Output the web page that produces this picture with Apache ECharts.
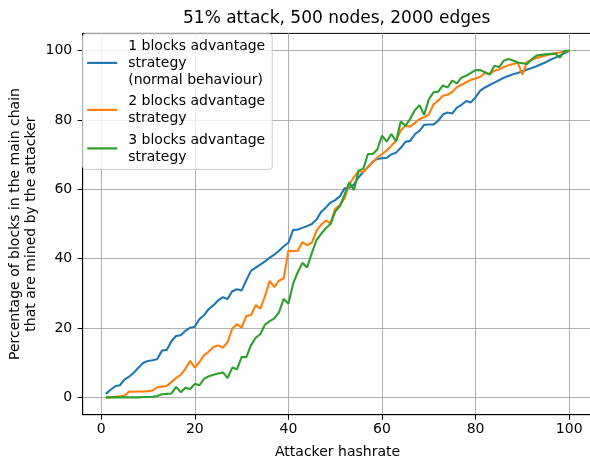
<!DOCTYPE html>
<html>
<head>
<meta charset="utf-8">
<script src="https://cdn.jsdelivr.net/npm/echarts@6/dist/echarts.min.js"></script>
<style>html,body{margin:0;padding:0;background:#fff;}#c{width:590px;height:459px;}</style>
</head>
<body>
<div id="c"></div>
<script>
const hashrate = Array.from({length: 100}, (_, i) => i + 1);
const xTicks = [0, 20, 40, 60, 80, 100];
const yTicks = [0, 20, 40, 60, 80, 100];
const seriesNames = [
  "1 blocks advantage\nstrategy\n(normal behaviour)",
  "2 blocks advantage\nstrategy",
  "3 blocks advantage\nstrategy"
];
const adv1 = [1.0,2.2,3.2,3.5,5.2,6.0,7.2,8.6,10.0,10.5,
  10.7,11.1,13.5,13.7,16.2,17.7,17.9,19.2,20.1,20.4,
  22.6,23.7,25.5,26.6,28.0,28.9,28.4,30.6,31.2,30.8,
  33.8,36.5,37.4,38.3,39.2,40.3,41.2,42.3,43.6,44.6,
  48.3,48.4,48.9,49.4,50.0,51.3,53.5,54.8,56.2,56.9,
  58.0,60.3,60.4,61.4,63.5,65.0,66.5,68.0,68.8,69.0,
  69.1,70.1,70.6,72.0,73.7,74.0,75.9,76.9,78.6,78.7,
  78.7,79.8,81.6,82.2,81.9,83.6,84.4,85.5,85.1,86.6,
  88.5,89.4,90.1,90.8,91.5,92.2,92.7,93.2,93.6,94.1,
  94.6,95.0,95.5,96.1,96.7,97.4,98.0,98.6,99.3,100.0];
const adv2 = [0.0,0.0,0.2,0.3,0.5,1.7,1.6,1.7,1.7,1.8,
  2.0,2.9,3.1,3.3,4.4,5.6,6.5,8.3,10.5,8.6,
  10.2,12.2,13.2,14.5,15.0,14.4,15.9,19.8,21.1,20.1,
  23.5,23.7,26.6,25.6,29.2,33.6,31.8,33.7,34.3,42.3,
  42.2,42.3,44.8,43.9,44.6,48.0,49.8,51.0,50.2,54.4,
  55.5,57.5,61.5,63.5,65.3,65.0,66.4,67.8,69.2,70.2,
  71.2,72.6,74.1,77.0,78.4,78.1,79.2,80.3,80.8,81.6,
  84.5,85.6,87.0,87.3,88.1,89.5,90.2,90.9,91.6,92.0,
  92.5,93.6,93.3,94.2,94.6,95.3,95.8,96.2,96.6,93.1,
  96.8,97.5,97.9,98.3,98.6,99.0,99.3,99.5,99.8,100.0];
const adv3 = [0.0,0.0,0.0,0.0,0.0,0.0,0.0,0.0,0.1,0.1,
  0.2,0.4,0.9,1.0,1.1,3.0,1.5,2.8,2.4,3.9,
  3.5,5.4,6.1,6.5,6.9,7.2,5.6,8.6,8.1,11.6,
  11.6,15.0,17.2,18.2,21.0,22.0,22.8,24.6,28.4,27.0,
  32.8,36.1,38.8,37.5,41.6,45.4,47.2,48.8,50.0,53.6,
  55.2,58.5,62.0,59.8,65.4,66.0,70.2,70.2,71.5,75.5,
  73.8,76.0,73.8,79.6,78.4,80.3,82.8,84.3,81.5,86.0,
  88.0,88.2,90.0,89.4,91.4,90.6,92.3,92.8,93.6,94.4,
  94.4,93.8,93.1,95.7,95.3,97.1,97.6,97.2,96.6,96.4,
  96.2,97.5,98.6,98.8,99.0,99.1,99.2,98.0,100.0,100.0];
const colors = ['#1f77b4', '#ff7f0e', '#2ca02c'];
const allSeries = [adv1, adv2, adv3];

const FONT = 'DejaVu Sans';
const chart = echarts.init(document.getElementById('c'), null, {renderer: 'canvas'});
chart.setOption({
  animation: false,
  backgroundColor: '#fff',
  color: colors,
  title: {
    text: '51% attack, 500 nodes, 2000 edges',
    left: 183, top: 8.5, padding: 0,
    textStyle: {fontFamily: FONT, fontSize: 17, fontWeight: 'normal', color: '#000', lineHeight: 20}
  },
  grid: {left: 82.7, top: 33.4, width: 509.7, height: 381.3, outerBoundsMode: 'none', containLabel: false,
    show: true, borderColor: '#000', borderWidth: 1, backgroundColor: 'transparent'},
  legend: {
    orient: 'vertical', left: 82.7, top: 33.8,
    padding: [3.6, 7, 4, 4.5],
    itemGap: 4.5, itemWidth: 30, itemHeight: 2.2, icon: 'rect',
    backgroundColor: 'rgba(255,255,255,0.8)', borderColor: '#cccccc', borderWidth: 1, borderRadius: 3,
    textStyle: {fontFamily: FONT, fontSize: 14, color: '#000', lineHeight: 17, padding: [0, 0, 0, 6]},
    data: seriesNames
  },
  xAxis: {
    type: 'value', min: -3.95, max: 104.95,
    name: 'Attacker hashrate', nameLocation: 'middle', nameGap: 30.5, nameMoveOverlap: false,
    nameTextStyle: {fontFamily: FONT, fontSize: 14, color: '#000'},
    axisLine: {show: true, onZero: false, lineStyle: {color: '#000', width: 1}},
    axisTick: {show: true, length: 5, lineStyle: {color: '#000', width: 1}, customValues: xTicks},
    axisLabel: {fontFamily: FONT, fontSize: 14, color: '#000', margin: 8, customValues: xTicks},
    splitLine: {show: true, lineStyle: {color: '#b0b0b0', width: 1}}
  },
  yAxis: {
    type: 'value', min: -5, max: 105,
    name: 'Percentage of blocks in the main chain\nthat are mined by the attacker',
    nameLocation: 'middle', nameGap: 43, nameMoveOverlap: false,
    nameTextStyle: {fontFamily: FONT, fontSize: 14, color: '#000', lineHeight: 16.5},
    axisLine: {show: true, onZero: false, lineStyle: {color: '#000', width: 1}},
    axisTick: {show: true, length: 5, lineStyle: {color: '#000', width: 1}, customValues: yTicks},
    axisLabel: {fontFamily: FONT, fontSize: 14, color: '#000', margin: 10.5, customValues: yTicks},
    splitLine: {show: true, lineStyle: {color: '#b0b0b0', width: 1}}
  },
  series: allSeries.map((arr, k) => ({
    name: seriesNames[k],
    type: 'line',
    data: hashrate.map((x, i) => [x, arr[i]]),
    showSymbol: false, symbol: 'none',
    lineStyle: {width: 2.1, color: colors[k]},
    itemStyle: {color: colors[k]},
    z: 2 + k
  }))
});
</script>
</body>
</html>
